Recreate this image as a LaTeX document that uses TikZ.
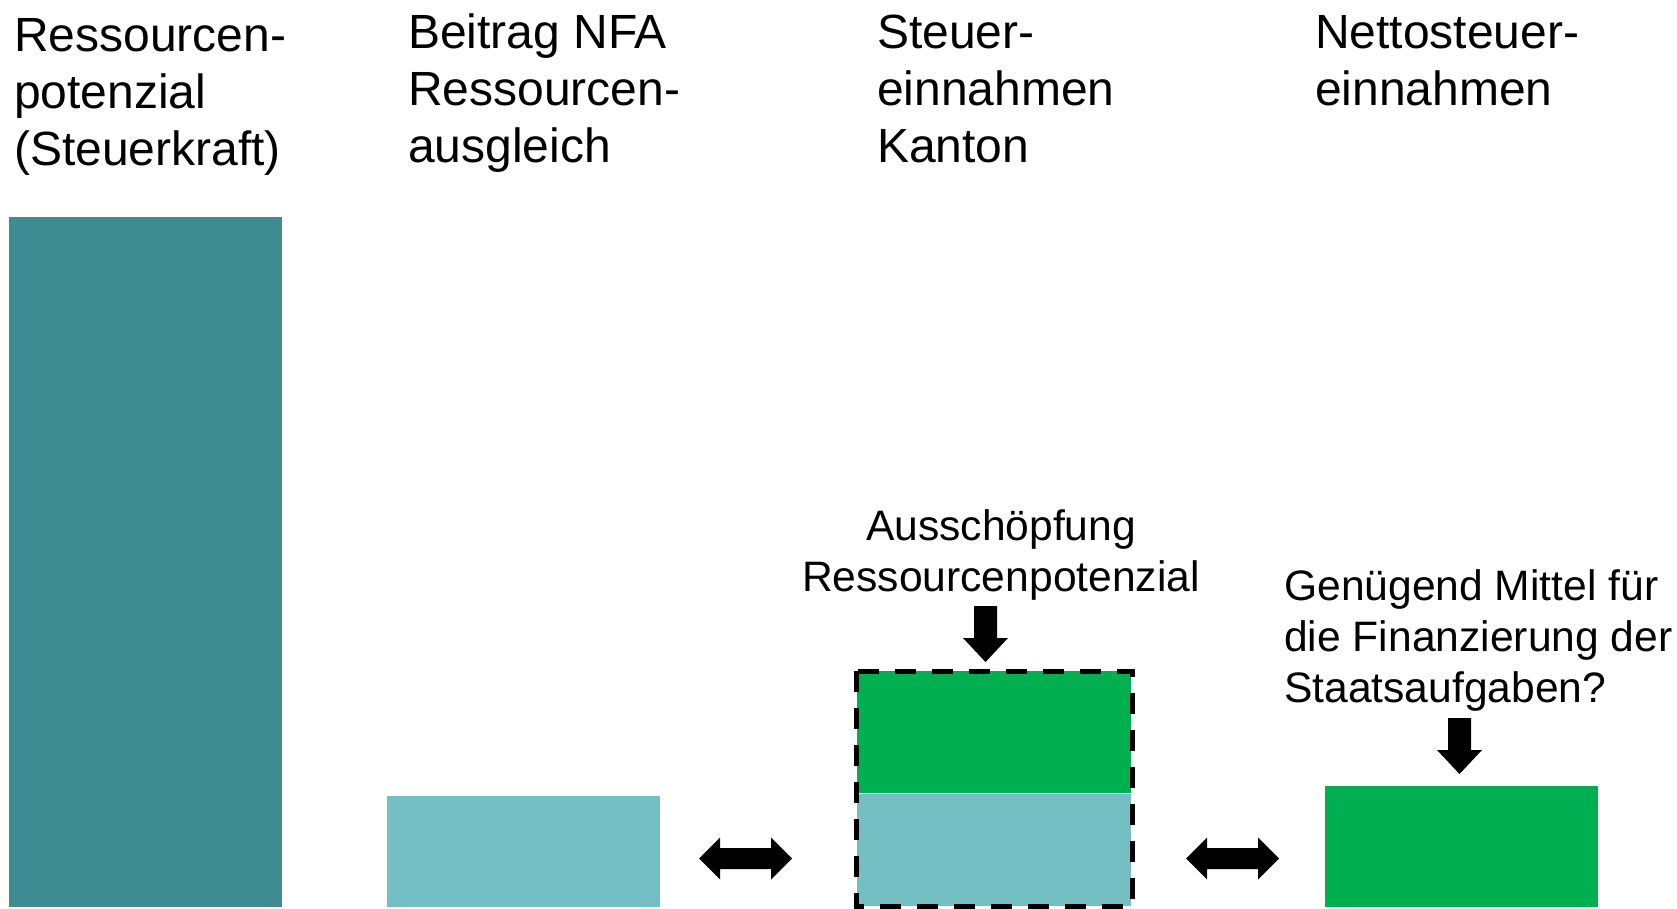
\documentclass[tikz,border=0pt]{standalone}
\usepackage{fontspec}
\setmainfont{Liberation Sans}
\definecolor{darkteal}{HTML}{3E8B92}
\definecolor{lightteal}{HTML}{73BFC4}
\definecolor{taxgreen}{HTML}{00B050}
\begin{document}
\begin{tikzpicture}[x=1pt, y=-1pt,
    heading/.style={anchor=base west, inner sep=0pt, align=left, font=\fontsize{48}{57}\selectfont},
    remark/.style={anchor=base, inner sep=0pt, font=\fontsize{42.6}{51}\selectfont}]
    \useasboundingbox (0,0) rectangle (1677,909);

    % Headings (placed at the baseline of their last line)
    \node[heading] (hPotenzial) at (14, 166) {Ressourcen-\\potenzial\\(Steuerkraft)};
    \node[heading] (hBeitrag) at (408, 163) {Beitrag NFA\\Ressourcen-\\ausgleich};
    \node[heading] (hKanton) at (877, 163) {Steuer-\\einnahmen\\Kanton};
    \node[heading] (hNetto) at (1315, 106) {Nettosteuer-\\einnahmen};

    % Bars
    \fill[darkteal] (9, 217) rectangle (282, 907);
    \fill[lightteal] (387, 796) rectangle (660, 907);
    \fill[taxgreen] (857, 671) rectangle (1131, 792.5);
    \fill[lightteal] (857, 793.5) rectangle (1131, 906);
    \draw[line width=5pt, dash pattern=on 21pt off 16pt] (856, 671) rectangle (1132, 906);
    \fill[taxgreen] (1325, 786) rectangle (1598, 907);

    % Remarks
    \node[remark, align=center] (rAusschoepfung) at (1001, 591) {Ausschöpfung\\Ressourcenpotenzial};
    \node[remark, anchor=base west, align=left] (rMittel) at (1284, 702) {Genügend Mittel für\\die Finanzierung der\\Staatsaufgaben?};

    % Block arrows
    \foreach \cx in {745.5, 1232.5} {
        \fill (\cx-46.5, 858.5) -- ++(21,-21) -- ++(0,10.5) -- ++(51,0) -- ++(0,-10.5)
            -- ++(21,21) -- ++(-21,21) -- ++(0,-10.5) -- ++(-51,0) -- ++(0,10.5) -- cycle;
    }
    \foreach \cx/\ty in {985.5/606, 1459.5/718} {
        \fill (\cx-11.5, \ty) -- ++(23,0) -- ++(0,32) -- ++(11,0) -- ++(-22.5,24)
            -- ++(-22.5,-24) -- ++(11,0) -- cycle;
    }
\end{tikzpicture}
\end{document}
